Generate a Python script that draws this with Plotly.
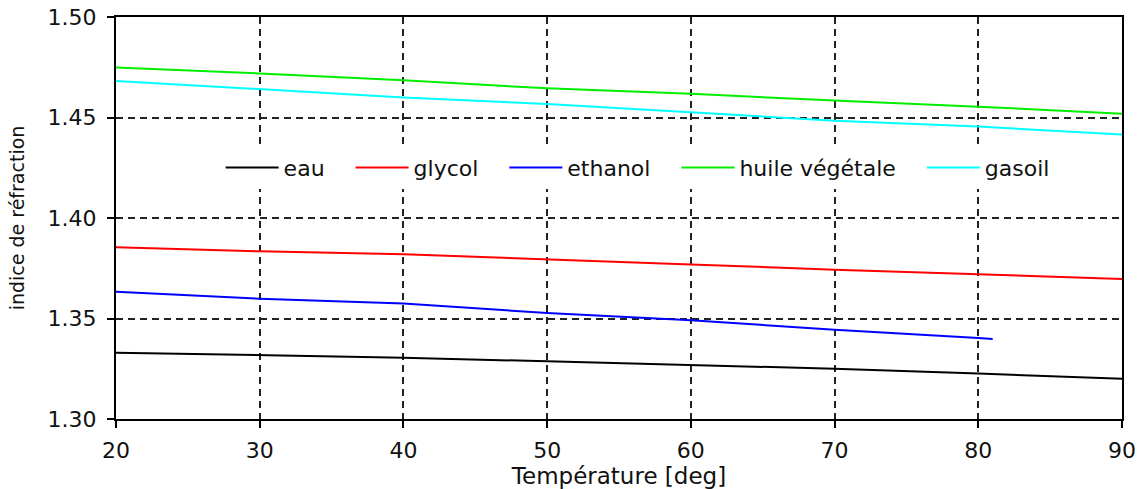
import plotly.graph_objects as go

temperature = [20, 30, 40, 50, 60, 70, 80, 90]
temperature_ethanol = [20, 30, 40, 50, 60, 70, 80, 81]

eau = [1.3330, 1.3316, 1.3305, 1.3287, 1.3269, 1.3250, 1.3226, 1.3200]
glycol = [1.3855, 1.3834, 1.3820, 1.3793, 1.3769, 1.3743, 1.3721, 1.3697]
ethanol = [1.3633, 1.3598, 1.3575, 1.3527, 1.3491, 1.3444, 1.3403, 1.3398]
huile_vegetale = [1.4749, 1.4719, 1.4685, 1.4645, 1.4618, 1.4584, 1.4554, 1.4519]
gasoil = [1.4682, 1.4640, 1.4600, 1.4567, 1.4525, 1.4484, 1.4455, 1.4415]

x_ticks = [20, 30, 40, 50, 60, 70, 80, 90]
y_ticks = [1.30, 1.35, 1.40, 1.45, 1.50]

series = [
    ("eau", temperature, eau, "#000000"),
    ("glycol", temperature, glycol, "#ff0000"),
    ("ethanol", temperature_ethanol, ethanol, "#0000ff"),
    ("huile végétale", temperature, huile_vegetale, "#00ee00"),
    ("gasoil", temperature, gasoil, "#00ffff"),
]

FONT = "DejaVu Sans"
NB = "\u00a0"

fig = go.Figure()
for name, xs, ys, color in series:
    fig.add_trace(go.Scatter(
        x=xs, y=ys, mode="lines", name=name + NB * 3,
        line=dict(color=color, width=2),
    ))

fig.update_layout(
    width=1142, height=489,
    margin=dict(l=116, r=20, t=17, b=70),
    paper_bgcolor="white", plot_bgcolor="white",
    font=dict(family=FONT, size=22, color="#111111"),
    showlegend=True,
    legend=dict(
        orientation="h", x=0.104, xanchor="left", y=0.625, yanchor="middle",
        bgcolor="white", borderwidth=0, itemwidth=53,
        font=dict(family=FONT, size=22, color="#111111"),
    ),
)

fig.update_xaxes(
    range=[20, 90], tickvals=x_ticks, ticktext=[str(v) for v in x_ticks],
    showline=True, linecolor="black", linewidth=2, mirror=True,
    ticks="outside", ticklen=7, tickwidth=1.5, tickcolor="black",
    ticklabelstandoff=4,
    showgrid=True, gridcolor="#222222", gridwidth=1.5, griddash="7px,5px",
    zeroline=False, automargin=False,
    title=dict(text="Température [deg]", font=dict(family=FONT, size=23), standoff=0),
)
fig.update_yaxes(
    range=[1.30, 1.50], tickvals=y_ticks, ticktext=[f"{v:.2f}" for v in y_ticks],
    showline=True, linecolor="black", linewidth=2, mirror=True,
    ticks="outside", ticklen=7, tickwidth=1.5, tickcolor="black",
    ticklabelstandoff=6,
    showgrid=True, gridcolor="#222222", gridwidth=1.5, griddash="7px,5px",
    zeroline=False, automargin=False,
    title=dict(text="indice de réfraction", font=dict(family=FONT, size=19), standoff=18),
)

fig.write_html("out.html")
